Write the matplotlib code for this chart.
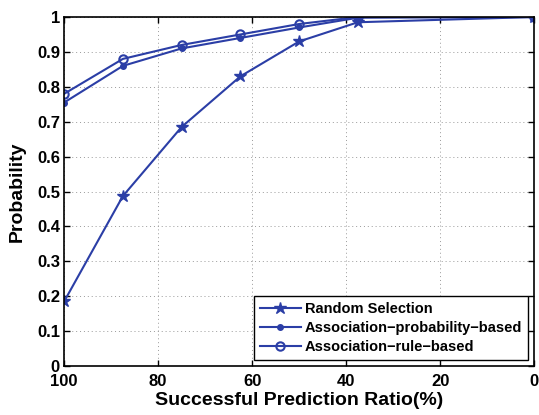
import numpy as np
import matplotlib
matplotlib.use('Agg')
import matplotlib.pyplot as plt

#%% Data
ratio = [100, 87.5, 75, 62.5, 50, 37.5, 0]
random_sel = [0.185, 0.487, 0.685, 0.83, 0.93, 0.985, 1.0]
prob_based = [0.755, 0.86, 0.91, 0.94, 0.97, 0.998, 1.0]
rule_based = [0.78, 0.88, 0.92, 0.95, 0.98, 1.0, 1.0]
labels = ['Random Selection', 'Association\u2212probability\u2212based', 'Association\u2212rule\u2212based']

#%% Style
plt.rcParams['font.family'] = ['Liberation Sans', 'DejaVu Sans']
plt.rcParams['font.weight'] = 'bold'
color = '#2b3ea6'

fig = plt.figure(figsize=(5.39, 4.15), dpi=100)
ax = fig.add_axes([0.119, 0.118, 0.872, 0.841])

ax.plot(ratio, random_sel, color=color, lw=1.5, marker='*', ms=9, label=labels[0])
ax.plot(ratio, prob_based, color=color, lw=1.5, marker='.', ms=8, label=labels[1])
ax.plot(ratio, rule_based, color=color, lw=1.5, marker='o', ms=6, mfc='none', mew=1.5, label=labels[2])

ax.set_xlim(100, 0)
ax.set_ylim(0, 1)
ax.set_xticks([100, 80, 60, 40, 20, 0])
ax.set_yticks(np.arange(0, 1.01, 0.1))
ax.set_yticklabels(['0', '0.1', '0.2', '0.3', '0.4', '0.5', '0.6', '0.7', '0.8', '0.9', '1'])
ax.tick_params(direction='in', top=True, right=True, labelsize=12, width=1, length=4)
ax.tick_params(axis='x', pad=6)
ax.tick_params(axis='y', pad=3)
for sp in ax.spines.values():
    sp.set_linewidth(1.2)
ax.grid(True, linestyle=(0, (1, 3)), color='#999999', lw=0.7)

ax.set_xlabel('Successful Prediction Ratio(%)', fontsize=14, fontweight='bold', labelpad=2)
ax.set_ylabel('Probability', fontsize=14, fontweight='bold', labelpad=8)

leg = ax.legend(loc='lower right', fontsize=10.5, fancybox=False, framealpha=1,
                edgecolor='black', borderpad=0.4, labelspacing=0.35, handlelength=2.8,
                handletextpad=0.3, borderaxespad=0.4)
leg.get_frame().set_linewidth(1.0)

fig.savefig('out.png', dpi=100)
